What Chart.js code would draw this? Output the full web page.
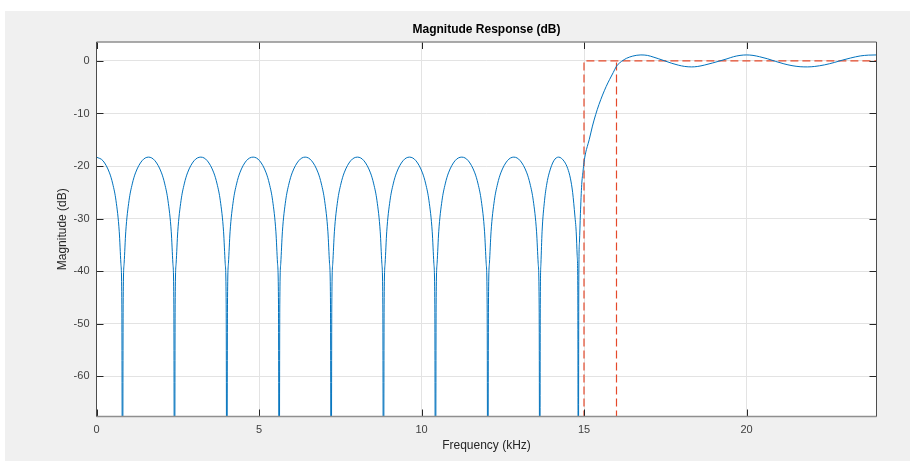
<!DOCTYPE html>
<html>
<head>
<meta charset="utf-8">
<script src="https://cdn.jsdelivr.net/npm/chart.js@4.4.0/dist/chart.umd.min.js"></script>
<style>
  html, body { margin: 0; padding: 0; background: #fff; }
  canvas { display: block; }
</style>
</head>
<body>
<canvas id="chart" width="910" height="461"></canvas>
<script>
// magnitude response (kHz, dB); -100 marks a null below the axis
const freqKHz = [
  0.00, 0.20, 0.40, 0.50, 0.60, 0.70, 0.75, 0.78, 0.80,
  0.82, 0.85, 0.90, 1.00, 1.10, 1.20, 1.40, 1.60, 1.80, 2.00, 2.10, 2.20, 2.30, 2.35, 2.38, 2.40,
  2.42, 2.45, 2.50, 2.60, 2.70, 2.80, 3.00, 3.21, 3.41, 3.61, 3.71, 3.81, 3.91, 3.96, 3.99, 4.01,
  4.03, 4.06, 4.11, 4.21, 4.31, 4.41, 4.61, 4.82, 5.02, 5.22, 5.32, 5.42, 5.52, 5.57, 5.60, 5.62,
  5.64, 5.67, 5.72, 5.82, 5.92, 6.02, 6.22, 6.42, 6.62, 6.82, 6.92, 7.02, 7.12, 7.17, 7.20, 7.22,
  7.24, 7.27, 7.32, 7.42, 7.52, 7.62, 7.82, 8.03, 8.23, 8.43, 8.53, 8.63, 8.73, 8.78, 8.81, 8.83,
  8.85, 8.88, 8.93, 9.03, 9.13, 9.23, 9.43, 9.63, 9.83, 10.03, 10.13, 10.23, 10.33, 10.38, 10.41, 10.43,
  10.45, 10.48, 10.53, 10.63, 10.73, 10.83, 11.03, 11.24, 11.44, 11.64, 11.74, 11.84, 11.94, 11.99, 12.02, 12.04,
  12.06, 12.09, 12.14, 12.24, 12.34, 12.44, 12.64, 12.84, 13.04, 13.24, 13.34, 13.44, 13.54, 13.59, 13.62, 13.64,
  13.655, 13.675, 13.71, 13.785, 13.855, 13.93, 14.07, 14.22, 14.40, 14.50, 14.58, 14.65, 14.72, 14.76, 14.79, 14.81, 14.825,
  14.84, 14.86, 14.89, 14.93, 14.97, 15.00, 15.05, 15.10, 15.16, 15.26, 15.36, 15.46, 15.57, 15.68, 15.79, 15.90, 16.00,
  16.10, 16.20, 16.31, 16.50, 16.75, 16.95, 17.15, 17.30, 17.49, 17.70, 17.90, 18.10, 18.31, 18.50, 18.70, 18.95, 19.18,
  19.40, 19.60, 19.80, 20.00, 20.20, 20.40, 20.65, 20.90, 21.15, 21.40, 21.65, 21.88, 22.10, 22.40, 22.70, 22.95,
  23.20, 23.50, 23.75, 24.00
];
const magDB = [
  -18.3, -19.0, -21.3, -23.4, -26.6, -32.5, -38.5, -46.4, -100,
  -46.4, -38.5, -32.5, -26.6, -23.4, -21.3, -19.0, -18.3, -19.0, -21.3, -23.4, -26.6, -32.5, -38.5, -46.4, -100,
  -46.4, -38.5, -32.5, -26.6, -23.4, -21.3, -19.0, -18.3, -19.0, -21.3, -23.4, -26.6, -32.5, -38.5, -46.4, -100,
  -46.4, -38.5, -32.5, -26.6, -23.4, -21.3, -19.0, -18.3, -19.0, -21.3, -23.4, -26.6, -32.5, -38.5, -46.4, -100,
  -46.4, -38.5, -32.5, -26.6, -23.4, -21.3, -19.0, -18.3, -19.0, -21.3, -23.4, -26.6, -32.5, -38.5, -46.4, -100,
  -46.4, -38.5, -32.5, -26.6, -23.4, -21.3, -19.0, -18.3, -19.0, -21.3, -23.4, -26.6, -32.5, -38.5, -46.4, -100,
  -46.4, -38.5, -32.5, -26.6, -23.4, -21.3, -19.0, -18.3, -19.0, -21.3, -23.4, -26.6, -32.5, -38.5, -46.4, -100,
  -46.4, -38.5, -32.5, -26.6, -23.4, -21.3, -19.0, -18.3, -19.0, -21.3, -23.4, -26.6, -32.5, -38.5, -46.4, -100,
  -46.4, -38.5, -32.5, -26.6, -23.4, -21.3, -19.0, -18.3, -19.0, -21.3, -23.4, -26.6, -32.5, -38.5, -46.4, -100,
  -46.4, -38.5, -32.5, -26.6, -23.4, -21.3, -19.0, -18.3, -19.2, -20.5, -22.3, -25.0, -29.5, -32.5, -37.0, -44.0, -100,
  -42.0, -34.5, -29.0, -23.5, -21.0, -19.3, -17.5, -16.3, -15.0, -12.4, -10.2, -8.3, -6.5, -4.9, -3.5, -2.2, -1.0,
  -0.35, 0.1, 0.5, 0.92, 1.14, 1.05, 0.7, 0.4, 0.0, -0.45, -0.8, -1.05, -1.14, -1.05, -0.8, -0.4, 0.0,
  0.4, 0.8, 1.05, 1.14, 1.05, 0.8, 0.4, -0.1, -0.55, -0.9, -1.1, -1.14, -1.05, -0.75, -0.3, 0.15,
  0.55, 0.95, 1.1, 1.14
];

// spec mask (dashed red)
const maskStopX = [15, 15, 24];
const maskStopY = [-100, 0, 0];
const maskPassX = [16, 16];
const maskPassY = [-100, 0];

const xTicks = [0, 5, 10, 15, 20];
const yTicks = [0, -10, -20, -30, -40, -50, -60];
const xRange = [0, 24];
const yRange = [-67.65, 3.6];

const FONT = '"Liberation Sans", Arial, sans-serif';
const TICK_COLOR = '#404040';
const GRID_COLOR = '#e3e3e3';
const MASK_COLOR = '#e5492a';

function pairs(xs, ys) {
  return xs.map((x, i) => ({ x: x, y: ys[i] }));
}

// grey figure background, white axes, box with inward ticks, title
const framePlugin = {
  id: 'frame',
  beforeDraw(c) {
    const ctx = c.ctx;
    const a = c.chartArea;
    ctx.save();
    ctx.fillStyle = '#ffffff';
    ctx.fillRect(0, 0, c.width, c.height);
    ctx.fillStyle = '#f0f0f0';
    ctx.fillRect(5, 11, c.width - 5, c.height - 11);
    ctx.fillStyle = '#ffffff';
    ctx.fillRect(a.left, a.top, a.right - a.left, a.bottom - a.top);
    ctx.restore();
  },
  afterDraw(c) {
    const ctx = c.ctx;
    const a = c.chartArea;
    const xs = c.scales.x;
    const ys = c.scales.y;
    ctx.save();
    // ticks, inward on all four sides
    ctx.strokeStyle = '#262626';
    ctx.lineWidth = 1;
    ctx.beginPath();
    xTicks.forEach(v => {
      const px = Math.round(xs.getPixelForValue(v)) + 0.5;
      ctx.moveTo(px, a.bottom); ctx.lineTo(px, a.bottom - 7);
      ctx.moveTo(px, a.top); ctx.lineTo(px, a.top + 7);
    });
    yTicks.forEach(v => {
      const py = Math.round(ys.getPixelForValue(v)) + 0.5;
      ctx.moveTo(a.left, py); ctx.lineTo(a.left + 7, py);
      ctx.moveTo(a.right, py); ctx.lineTo(a.right - 7, py);
    });
    ctx.stroke();
    // box
    ctx.strokeStyle = '#8f8f8f';
    ctx.lineWidth = 1.5;
    ctx.beginPath();
    ctx.moveTo(a.left, a.top); ctx.lineTo(a.right, a.top);
    ctx.moveTo(a.left, a.bottom); ctx.lineTo(a.right, a.bottom);
    ctx.stroke();
    ctx.strokeStyle = '#4d4d4d';
    ctx.lineWidth = 1;
    ctx.beginPath();
    ctx.moveTo(a.left, a.top); ctx.lineTo(a.left, a.bottom);
    ctx.moveTo(a.right, a.top); ctx.lineTo(a.right, a.bottom);
    ctx.stroke();
    // title
    ctx.fillStyle = '#000000';
    ctx.font = 'bold 12px ' + FONT;
    ctx.textAlign = 'center';
    ctx.textBaseline = 'middle';
    ctx.fillText('Magnitude Response (dB)', (a.left + a.right) / 2, 30);
    ctx.restore();
  }
};

new Chart(document.getElementById('chart').getContext('2d'), {
  type: 'line',
  data: {
    datasets: [
      {
        label: 'Magnitude',
        data: pairs(freqKHz, magDB),
        borderColor: '#0072bd',
        borderWidth: 1,
        pointRadius: 0,
        cubicInterpolationMode: 'monotone',
        order: 0
      },
      {
        label: 'Stopband mask',
        data: pairs(maskStopX, maskStopY),
        borderColor: MASK_COLOR,
        borderWidth: 1.2,
        borderDash: [8, 4],
        pointRadius: 0,
        tension: 0,
        order: 1
      },
      {
        label: 'Passband mask',
        data: pairs(maskPassX, maskPassY),
        borderColor: MASK_COLOR,
        borderWidth: 1.2,
        borderDash: [8, 4],
        pointRadius: 0,
        tension: 0,
        order: 1
      }
    ]
  },
  options: {
    responsive: false,
    animation: false,
    layout: { padding: { top: 42, right: 33.5, bottom: 0, left: 0 } },
    plugins: {
      legend: { display: false },
      tooltip: { enabled: false },
      title: { display: false }
    },
    scales: {
      x: {
        type: 'linear',
        min: xRange[0],
        max: xRange[1],
        afterBuildTicks: s => { s.ticks = xTicks.map(v => ({ value: v })); },
        afterFit: s => { s.height = 44.5; },
        grid: { color: GRID_COLOR, drawTicks: false },
        border: { display: false },
        ticks: { padding: 7, color: TICK_COLOR, font: { family: FONT, size: 11 } },
        title: {
          display: true,
          text: 'Frequency (kHz)',
          color: '#262626',
          font: { family: FONT, size: 12 },
          padding: { top: 0, bottom: 7.8 }
        }
      },
      y: {
        type: 'linear',
        min: yRange[0],
        max: yRange[1],
        afterBuildTicks: s => { s.ticks = yTicks.map(v => ({ value: v })); },
        afterFit: s => { s.width = 96.5; },
        grid: { color: GRID_COLOR, drawTicks: false },
        border: { display: false },
        ticks: { padding: 7, color: TICK_COLOR, font: { family: FONT, size: 11 } },
        title: {
          display: true,
          text: 'Magnitude (dB)',
          color: '#262626',
          font: { family: FONT, size: 12 },
          padding: { top: 55.5, bottom: 0 }
        }
      }
    }
  },
  plugins: [framePlugin]
});
</script>
</body>
</html>
